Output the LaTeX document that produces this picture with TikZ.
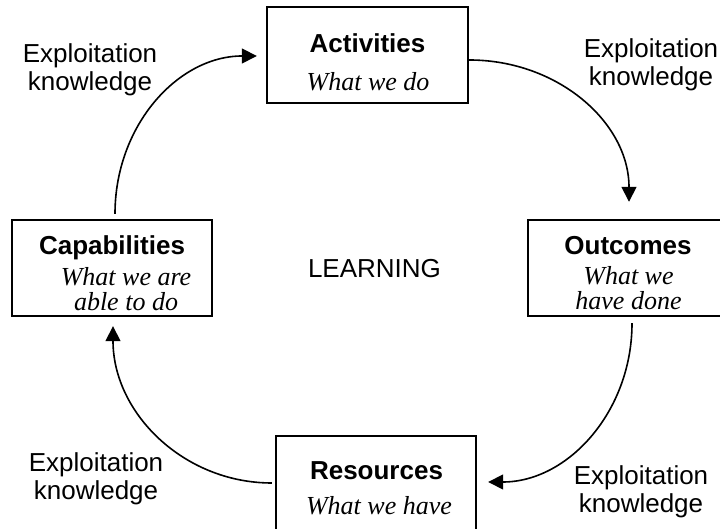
\documentclass[tikz,border=0pt]{standalone}
\usepackage{fontspec}
\setmainfont{Liberation Serif}
\newfontfamily\arialfont{Liberation Sans}
\usetikzlibrary{arrows.meta}

% two centred lines whose baseline is the first line
\newcommand{\twolines}[2]{\begin{tabular}[t]{@{}c@{}}#1\\#2\end{tabular}}

\begin{document}
\begin{tikzpicture}[
  x=1pt, y=1pt,
  stagebox/.style={draw, line width=2.4pt, minimum width=200pt, minimum height=96pt, inner sep=0pt},
  headtext/.style={font=\arialfont\bfseries\fontsize{26}{28}\selectfont, anchor=base, inner sep=0pt},
  desctext/.style={font=\itshape\fontsize{26}{23}\selectfont, anchor=base, inner sep=0pt},
  labeltext/.style={font=\arialfont\fontsize{26}{27.5}\selectfont, anchor=base, inner sep=0pt},
  flow/.style={line width=1.6pt, -{Triangle[length=15pt,width=15pt]}}
]
\useasboundingbox (0,0) rectangle (720,529);

% the four stages of the cycle
\node[stagebox, minimum width=201pt] (act) at (367.5,474) {};
\node[stagebox] (cap) at (112,261) {};
\node[stagebox] (out) at (628,261) {};
\node[stagebox] (res) at (376,45) {};

% stage titles and descriptions
\node[headtext] (actT) at (367.5,476) {Activities};
\node[desctext] (actD) at (368,438) {What we do};
\node[headtext] (capT) at (112,274) {Capabilities};
\node[desctext] (capD) at (126,243) {\twolines{What we are}{able to do}};
\node[headtext] (outT) at (628,274) {Outcomes};
\node[desctext] (outD) at (628.5,244) {\twolines{What we}{have done}};
\node[headtext] (resT) at (376.5,49) {Resources};
\node[desctext] (resD) at (379,14) {What we have};

% centre label
\node[labeltext] (learn) at (374.5,251) {LEARNING};

% labels beside the connectors
\node[labeltext] (tl) at (90,466) {\twolines{Exploitation}{knowledge}};
\node[labeltext] (tr) at (651,471) {\twolines{Exploitation}{knowledge}};
\node[labeltext] (bl) at (96,57) {\twolines{Exploitation}{knowledge}};
\node[labeltext] (br) at (641,44) {\twolines{Exploitation}{knowledge}};

% curved connectors going round the cycle
\draw[flow] ([shift={(3,5)}]cap.north) .. controls +(0,88) and +(-79,0) .. ([shift={(-9,-1)}]act.west);
\draw[flow] ([yshift=-5]act.east) .. controls +(89,0) and +(0,79) .. ([shift={(1,17)}]out.north);
\draw[flow] ([shift={(4,-6)}]out.south) .. controls +(0,-88) and +(80,0) .. ([shift={(11,2)}]res.east);
\draw[flow] ([shift={(-3,1)}]res.west) .. controls +(-88,0) and +(0,-87) .. ([shift={(1,-9)}]cap.south);
\end{tikzpicture}
\end{document}
